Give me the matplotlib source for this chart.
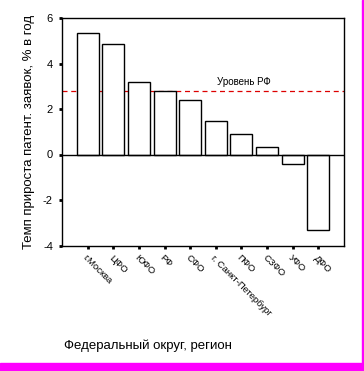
import matplotlib
matplotlib.use("Agg")
import matplotlib.pyplot as plt
from matplotlib.patches import Rectangle

plt.rcParams['font.family'] = ['Liberation Sans', 'DejaVu Sans']

regions = ["г.Москва", "ЦФО", "ЮФО", "РФ", "СФО", "г. Санкт-Петербург",
           "ПФО", "СЗФО", "УФО", "ДФО"]
growth = [5.36, 4.87, 3.18, 2.78, 2.40, 1.46, 0.88, 0.35, -0.40, -3.34]
rf_level = 2.78
y_ticks = [-4, -2, 0, 2, 4, 6]

W, H = 364, 371
fig = plt.figure(figsize=(W / 100, H / 100), dpi=100)
ax = fig.add_axes([62 / W, 1 - 245.5 / H, 282 / W, 227.5 / H])

x = list(range(len(regions)))
ax.bar(x, growth, width=0.86, color="white", edgecolor="black", linewidth=1.0, zorder=2)
ax.axhline(0, color="black", linewidth=1.0, zorder=3)
ax.axhline(rf_level, color="#dd0000", linewidth=0.9, linestyle=(0, (4, 3)), zorder=1)
ax.text(6.1, 3.19, "Уровень РФ", fontsize=7, ha="center", va="center")

ax.set_xlim(-1, 10)
ax.set_ylim(-4, 6)
ax.set_yticks(y_ticks)
ax.set_yticklabels(["-4", "-2", "0", "2", "4", "6"], fontsize=8)
ax.set_xticks(x)
ax.set_xticklabels(regions, rotation=-45, ha="left", va="top",
                   rotation_mode="anchor", fontsize=6.8)
ax.tick_params(axis="both", length=2.5, width=2, direction="out")
ax.tick_params(axis="y", pad=4)
ax.tick_params(axis="x", pad=3)

for s in ax.spines.values():
    s.set_linewidth(1.0)

ax.set_ylabel("Темп прироста патент. заявок, % в год", fontsize=9.5, labelpad=6)
fig.text(148 / W, 1 - 346 / H, "Федеральный округ, регион", fontsize=9.5,
         ha="center", va="center")

# magenta frame pieces
fig.add_artist(Rectangle((0, 0), 1, 8 / H, transform=fig.transFigure,
                         color="#ff00ff", zorder=10))
fig.add_artist(Rectangle((1 - 2 / W, 0), 2 / W, 1, transform=fig.transFigure,
                         color="#ff00ff", zorder=10))

fig.savefig("out.png", dpi=100)
